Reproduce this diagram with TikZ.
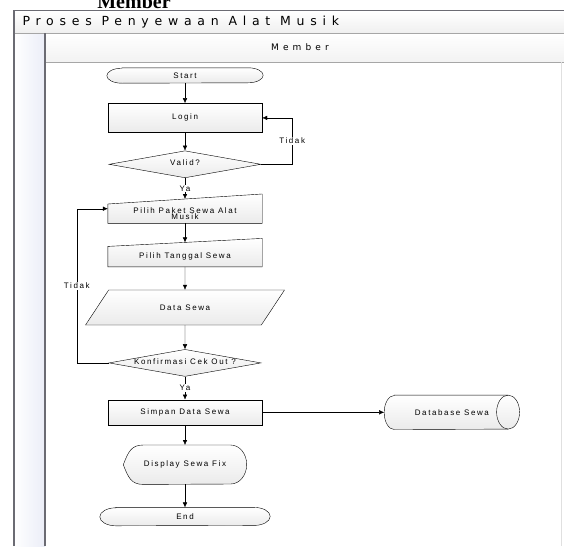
\documentclass[tikz,border=0pt]{standalone}
\usepackage{fontspec}
\usepackage{tikz}
\usetikzlibrary{positioning,shapes,arrows.meta,backgrounds,calc}
\newfontfamily\boxfont[LetterSpace=20]{Liberation Sans}
\newfontfamily\lanefont[LetterSpace=46]{DejaVu Sans}
\newfontfamily\headfont{Liberation Serif}
\definecolor{lanegray}{rgb}{0.42,0.42,0.45}
\definecolor{laneblue}{rgb}{0.92,0.93,0.97}
\tikzstyle{boxfill}=[%
      draw=black, thin, top color=white, bottom color=black!8
]
\tikzstyle{term}=[%
      rectangle, draw=none, minimum width=156pt, minimum height=15pt,
      inner sep=1pt, font=\boxfont\fontsize{8}{9}\selectfont
]
\tikzstyle{proc}=[%
      rectangle, boxfill, minimum width=154pt,
      inner sep=1pt, font=\boxfont\fontsize{8}{9}\selectfont
]
\tikzstyle{manual}=[%
      rectangle, draw=none, minimum width=154pt, align=center,
      inner sep=1pt, font=\boxfont\fontsize{8}{6.5}\selectfont
]
\tikzstyle{decide}=[%
      diamond, boxfill, shape aspect=5.6, minimum width=152pt, minimum height=27pt,
      inner sep=0pt, text height=2.6pt, text depth=-2.6pt, font=\boxfont\fontsize{8}{9}\selectfont
]
\tikzstyle{io}=[%
      trapezium, trapezium left angle=44, trapezium right angle=136, trapezium stretches=true,
      boxfill, minimum width=200pt, minimum height=35pt,
      inner sep=1pt, font=\boxfont\fontsize{8}{9}\selectfont
]
\tikzstyle{shownode}=[%
      rectangle, draw=none, minimum width=123pt, minimum height=39pt,
      inner sep=1pt, font=\boxfont\fontsize{8}{9}\selectfont
]
\tikzstyle{storenode}=[%
      rectangle, draw=none, minimum width=135pt, minimum height=34pt,
      inner sep=1pt, font=\boxfont\fontsize{8}{9}\selectfont
]
\tikzstyle{lbl}=[%
      fill=white, inner sep=1pt, font=\boxfont\fontsize{8}{9}\selectfont
]
\begin{document}
\begin{tikzpicture}[x=1pt, y=-1pt,
    flow/.style={-{Latex[length=5pt,width=4.5pt]}, black}
  ]
    \useasboundingbox (0,0) rectangle (564,546);

    % lanes
    \fill[left color=white, right color=laneblue] (14,33) rectangle (45,546);
    \fill[top color=white, bottom color=black!6] (14,10.5) rectangle (564,33);
    \fill[top color=white, bottom color=black!5] (45,33) rectangle (564,62);
    \draw[black!35] (14,33) -- (564,33);
    \draw[black!35] (45,62) -- (564,62);
    \draw[black!12] (561,62) -- (561,546);
    \draw[lanegray, line width=1.1pt] (14,546) -- (14,10.5) -- (564,10.5);
    \draw[lanegray, line width=1.1pt] (45,546) -- (45,33);

    \node[font=\headfont\bfseries\fontsize{20}{22}\selectfont, anchor=base] (topmember) at (134,9) {Member};
    \node[font=\lanefont\fontsize{12.5}{15}\selectfont, anchor=west] (lanetitle) at (19,22) {Proses Penyewaan Alat Musik};
    \node[font=\lanefont\fontsize{9}{11}\selectfont] (lanemember) at (300,47.5) {Member};

    % flow
    \node[term]                          (start)   at (185,75.5)          {Start};
    \node[proc, minimum height=29pt]     (login)   [below=20pt of start]  {Login};
    \node[decide]                        (valid)   [below=18pt of login]  {Valid?};
    \node[manual, minimum height=19pt]   (paket)   [below=26pt of valid]  {Pilih Paket Sewa Alat\\Musik};
    \node[manual, minimum height=20pt]   (tanggal) [below=23pt of paket]  {Pilih Tanggal Sewa};
    \node[io]                            (data)    [below=23pt of tanggal] {Data Sewa};
    \node[decide]                        (konf)    [below=24pt of data]   {Konfirmasi Cek Out ?};
    \node[proc, minimum height=25pt]     (simpan)  [below=23pt of konf]   {Simpan Data Sewa};
    \node[shownode]                      (disp)    [below=20pt of simpan] {Display Sewa Fix};
    \node[term, minimum width=170pt, minimum height=18pt] (end) [below=23pt of disp] {End};
    \node[storenode]                     (db)      [right=122pt of simpan] {Database Sewa};

    \begin{scope}[on background layer]
      \foreach \n/\r/\h in {start/15/7.5, end/16/9}
        \draw[boxfill] ($(\n.north west)+(\r,0)$) -- ($(\n.north east)+(-\r,0)$) arc[start angle=-90, end angle=90, x radius=\r, y radius=\h]
          -- ($(\n.south west)+(\r,0)$) arc[start angle=90, end angle=270, x radius=\r, y radius=\h] -- cycle;
      \draw[boxfill] (paket.south west) -- (paket.north west) -- ([yshift=10pt]paket.north east) -- (paket.south east) -- cycle;
      \draw[boxfill] (tanggal.south west) -- (tanggal.north west) -- ([yshift=8pt]tanggal.north east) -- (tanggal.south east) -- cycle;
      \draw[boxfill] (disp.west) .. controls ($(disp.west)+(5,-13)$) and ($(disp.north west)+(8,0)$) .. ($(disp.north west)+(20,0)$)
        -- ($(disp.north east)+(-16,0)$) arc[start angle=-90, end angle=90, x radius=16, y radius=19.5]
        -- ($(disp.south west)+(20,0)$) .. controls ($(disp.south west)+(8,0)$) and ($(disp.west)+(5,13)$) .. (disp.west) -- cycle;
      \draw[boxfill] ($(db.north west)+(10,0)$) -- ($(db.north east)+(-11.5,0)$) arc[start angle=-90, end angle=90, x radius=11.5, y radius=17]
        -- ($(db.south west)+(10,0)$) arc[start angle=90, end angle=270, x radius=10, y radius=17] -- cycle;
      \draw ($(db.north east)+(-11.5,0)$) arc[start angle=-90, end angle=-270, x radius=11.5, y radius=17];
    \end{scope}

    \coordinate (paketin) at ([yshift=5pt]paket.west);

    \draw[flow] (start.south -| login.north) -- (login);
    \draw[flow] (login) -- (valid);
    \draw[flow] (valid) -- node[lbl] {Ya} ([yshift=5pt]paket.north);
    \draw[flow] (valid.east) -- ++(31,0) coordinate (tidakr) -- (tidakr |- login.east) node[midway, lbl] {Tidak} -- (login.east);
    \draw[flow] (paket) -- ([yshift=4pt]tanggal.north);
    \draw[flow] (tanggal) -- (data);
    \draw[flow] (data) -- (konf);
    \draw[flow] (konf.west) -- ++(-32,0) coordinate (tidakl) -- (tidakl |- paketin) node[midway, lbl] {Tidak} -- (paketin);
    \draw[flow] (konf) -- node[lbl] {Ya} (simpan);
    \draw[flow] (simpan) -- (disp);
    \draw[flow] (disp) -- (end.north -| disp.south);
    \draw[flow] (simpan) -- (db);

\end{tikzpicture}
\end{document}
